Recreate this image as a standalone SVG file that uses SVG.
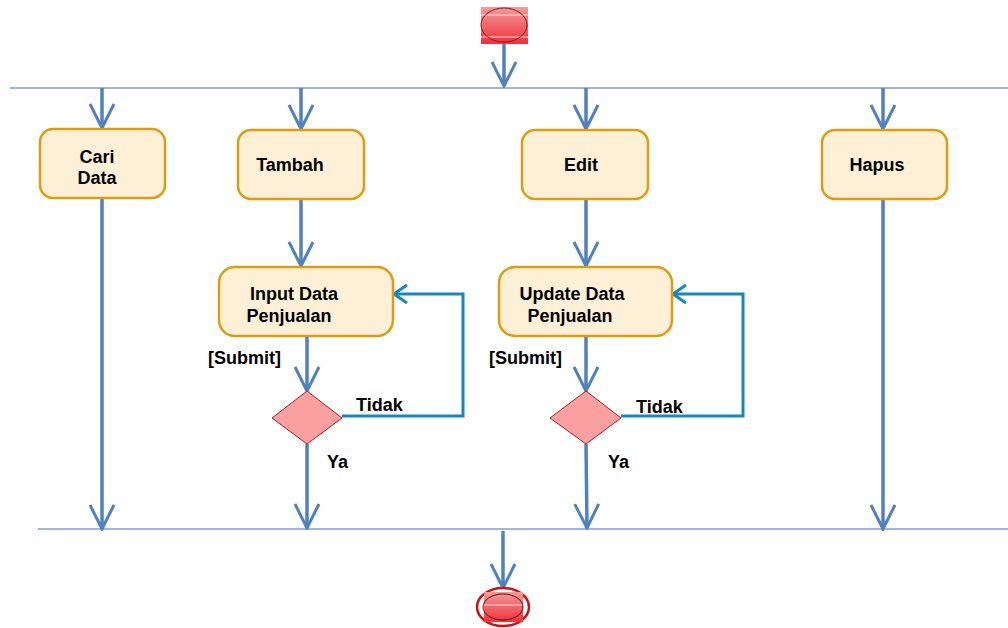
<svg xmlns="http://www.w3.org/2000/svg" width="1008" height="628" viewBox="0 0 1008 628">
<defs>
<linearGradient id="rg" x1="0" y1="0" x2="0" y2="1">
<stop offset="0" stop-color="#F59A9A"/><stop offset="1" stop-color="#F0303A"/>
</linearGradient>
<marker id="ah" viewBox="0 0 30 30" refX="28" refY="15" markerWidth="30" markerHeight="30" markerUnits="userSpaceOnUse" orient="auto">
<polyline points="4,3 28,15 4,27" fill="none" stroke="#4F81BD" stroke-width="3"/>
</marker>
<marker id="ah2" viewBox="0 0 30 30" refX="28" refY="15" markerWidth="30" markerHeight="30" markerUnits="userSpaceOnUse" orient="auto">
<polyline points="15,6 28,15 15,24" fill="none" stroke="#1B86B8" stroke-width="3"/>
</marker>
</defs>
<style>
.sw{stroke:#7F9FCF;stroke-width:1.5;fill:none}
.ar{stroke:#4F81BD;stroke-width:3.5;fill:none}
.lp{stroke:#1B86B8;stroke-width:3;fill:none}
.box{fill:#FEF0D6;stroke:#DE9C10;stroke-width:2.5}
.dia{fill:#FBA0A0;stroke:#A52020;stroke-width:1}
text{font-family:"Liberation Sans",Arial,sans-serif;font-weight:bold;font-size:18px;fill:#000}
</style>
<g id="swimlines">
<line class="sw" x1="10" y1="88" x2="1008" y2="88"/>
<line class="sw" x1="38" y1="529" x2="1008" y2="529"/>
</g>
<g id="connectors">
<line class="ar" x1="504" y1="44" x2="504" y2="86" marker-end="url(#ah)"/>
<line class="ar" x1="102" y1="88" x2="102" y2="128" marker-end="url(#ah)"/>
<line class="ar" x1="301" y1="88" x2="301" y2="129" marker-end="url(#ah)"/>
<line class="ar" x1="586" y1="88" x2="586" y2="129" marker-end="url(#ah)"/>
<line class="ar" x1="883" y1="88" x2="883" y2="129" marker-end="url(#ah)"/>
<line class="ar" x1="102" y1="198" x2="102" y2="529" marker-end="url(#ah)"/>
<line class="ar" x1="883" y1="199" x2="883" y2="529" marker-end="url(#ah)"/>
<line class="ar" x1="301" y1="199" x2="301" y2="266" marker-end="url(#ah)"/>
<line class="ar" x1="586" y1="199" x2="586" y2="266" marker-end="url(#ah)"/>
<line class="ar" x1="307" y1="336" x2="307" y2="391" marker-end="url(#ah)"/>
<line class="ar" x1="586" y1="336" x2="586" y2="391" marker-end="url(#ah)"/>
<line class="ar" x1="307" y1="444" x2="307" y2="528" marker-end="url(#ah)"/>
<line class="ar" x1="586" y1="444" x2="587" y2="528" marker-end="url(#ah)"/>
<line class="ar" x1="503" y1="531" x2="503" y2="588" marker-end="url(#ah)"/>
<polyline class="lp" points="342,416 463,416 463,294 394,294" marker-end="url(#ah2)"/>
<polyline class="lp" points="621,416 743,416 743,294 673,294" marker-end="url(#ah2)"/>
</g>
<g id="start">
<rect x="481" y="7" width="47" height="37" fill="url(#rg)"/>
<line x1="481" y1="15" x2="528" y2="15" stroke="#fff" stroke-width="0.8"/>
<line x1="481" y1="37" x2="528" y2="37" stroke="#fff" stroke-width="0.8"/>
<ellipse cx="504" cy="25" rx="23" ry="17" fill="none" stroke="#8B1A1A" stroke-width="1"/>
</g>
<g id="end">
<ellipse cx="503" cy="607" rx="26" ry="19" fill="#fff" stroke="#D01010" stroke-width="2.5"/>
<rect x="484" y="592" width="39" height="30" fill="url(#rg)"/>
<line x1="484" y1="605" x2="523" y2="605" stroke="#fff" stroke-width="0.8"/>
<ellipse cx="503" cy="607" rx="20" ry="13" fill="none" stroke="#5A1010" stroke-width="1"/>
</g>
<g id="cari">
<rect class="box" x="40" y="129" width="125" height="69" rx="13"/>
<text x="97" y="163" text-anchor="middle">Cari</text>
<text x="97" y="184" text-anchor="middle">Data</text>
</g>
<g id="tambah">
<rect class="box" x="238" y="130" width="126" height="69" rx="13"/>
<text x="290" y="171" text-anchor="middle">Tambah</text>
</g>
<g id="edit">
<rect class="box" x="522" y="130" width="126" height="69" rx="13"/>
<text x="581" y="171" text-anchor="middle">Edit</text>
</g>
<g id="hapus">
<rect class="box" x="822" y="130" width="125" height="69" rx="13"/>
<text x="877" y="171" text-anchor="middle">Hapus</text>
</g>
<g id="input">
<rect class="box" x="219" y="267" width="174" height="69" rx="16"/>
<text x="294" y="300" text-anchor="middle">Input Data</text>
<text x="289" y="322" text-anchor="middle">Penjualan</text>
</g>
<g id="update">
<rect class="box" x="499" y="267" width="173" height="69" rx="16"/>
<text x="572" y="300" text-anchor="middle">Update Data</text>
<text x="570" y="322" text-anchor="middle">Penjualan</text>
</g>
<g id="decision1">
<polygon class="dia" points="307,391 342,418 307,444 272,418"/>
</g>
<g id="decision2">
<polygon class="dia" points="586,391 621,418 586,444 550,418"/>
</g>
<g id="labels">
<text x="208" y="364">[Submit]</text>
<text x="356" y="411">Tidak</text>
<text x="327" y="468">Ya</text>
<text x="489" y="364">[Submit]</text>
<text x="636" y="413">Tidak</text>
<text x="608" y="468">Ya</text>
</g>
</svg>
